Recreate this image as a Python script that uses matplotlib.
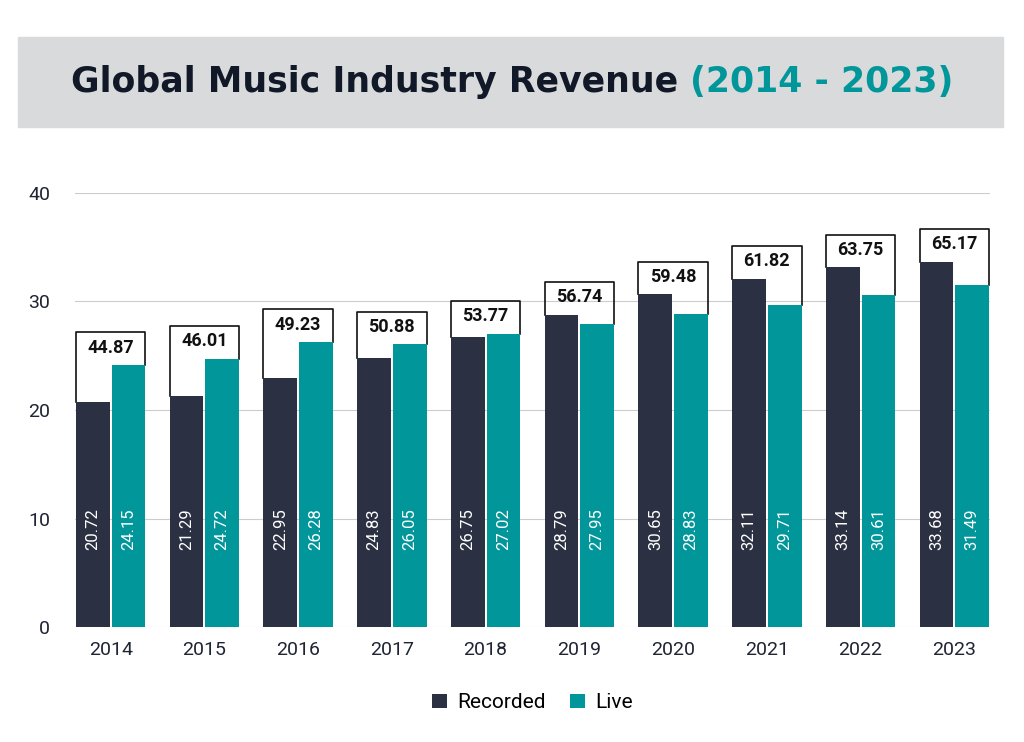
import matplotlib
matplotlib.use("Agg")
import matplotlib.pyplot as plt
from matplotlib.patches import Rectangle

years = ["2014","2015","2016","2017","2018","2019","2020","2021","2022","2023"]
recorded = [20.72,21.29,22.95,24.83,26.75,28.79,30.65,32.11,33.14,33.68]
live = [24.15,24.72,26.28,26.05,27.02,27.95,28.83,29.71,30.61,31.49]
totals = [44.87,46.01,49.23,50.88,53.77,56.74,59.48,61.82,63.75,65.17]

dark = "#2b3142"; teal = "#00969a"
plt.rcParams['font.family'] = ['Roboto', 'DejaVu Sans']
fig = plt.figure(figsize=(10.24,7.42), dpi=100)
fig.patches.append(Rectangle((18/1024, 1-127/742), 985/1024, 90/742, transform=fig.transFigure, color="#d9dadb", zorder=0))
ty = 1-82/742
t1 = fig.text(0, ty, "Global Music Industry Revenue ", ha="left", va="center", fontsize=25, fontweight="bold", color="#111827", family="DejaVu Sans")
t2 = fig.text(0, ty, "(2014 - 2023)", ha="left", va="center", fontsize=25, fontweight="bold", color=teal, family="DejaVu Sans")
fig.canvas.draw()
r = fig.canvas.get_renderer()
w1 = t1.get_window_extent(r).width / 1024
w2 = t2.get_window_extent(r).width / 1024
x0 = 0.5 - (w1 + w2) / 2
t1.set_x(x0); t2.set_x(x0 + w1)

ax = fig.add_axes([75/1024, 1-627/742, 915/1024, (627-193)/742])
x = list(range(len(years)))
w = 0.36; off = 0.19
ax.bar([i-off for i in x], recorded, w, color=dark, zorder=3, label="Recorded")
ax.bar([i+off for i in x], live, w, color=teal, zorder=3, label="Live")
for i in x:
    ax.text(i-off, 9, f"{recorded[i]:.2f}", rotation=90, ha="center", va="center", color="white", fontsize=12, zorder=4)
    ax.text(i+off, 9, f"{live[i]:.2f}", rotation=90, ha="center", va="center", color="white", fontsize=12, zorder=4)
    top = max(recorded[i], live[i]) + 3.0
    l = i-off-w/2; rr = i+off+w/2
    ax.plot([l, l, rr, rr], [recorded[i], top, top, live[i]], color="#111", lw=1.2, zorder=2)
    ax.text(i, top-1.4, f"{totals[i]:.2f}", ha="center", va="center", fontsize=13, fontweight="bold", color="#111", zorder=4)
ax.set_ylim(0, 40)
ax.set_xlim(-0.38, 9.38)
ax.set_yticks([0,10,20,30,40])
ax.set_xticks(x); ax.set_xticklabels(years)
ax.tick_params(length=0, labelsize=14, colors="#1e2433", pad=10)
ax.tick_params(axis="y", pad=18)
ax.grid(axis="y", color="#cccccc", lw=0.8, zorder=0)
for s in ax.spines.values(): s.set_visible(False)
ax.legend(loc="upper center", bbox_to_anchor=(0.5, -0.11), ncol=2, frameon=False, fontsize=15, handlelength=0.7, handleheight=0.7, columnspacing=1.2, handletextpad=0.5)
fig.savefig("out.png", dpi=100)
